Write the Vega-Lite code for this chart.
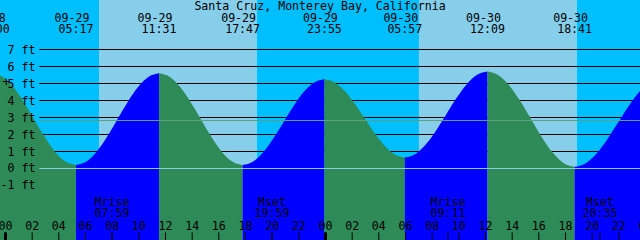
{
  "$schema": "https://vega.github.io/schema/vega-lite/v6.json",
  "width": 640,
  "height": 240,
  "padding": 0,
  "autosize": {"type": "none"},
  "config": {"view": {"stroke": null}, "text": {"font": "DejaVu Sans Mono", "fontSize": 11.6, "color": "black"}},
  "datasets": {
    "sky": [
      {"t0": -0.4125, "t1": 7.0125, "k": "night"},
      {"t0": 7.0125, "t1": 18.84, "k": "day"},
      {"t0": 18.84, "t1": 31.01, "k": "night"},
      {"t0": 31.01, "t1": 42.84, "k": "day"},
      {"t0": 42.84, "t1": 47.5875, "k": "night"}
    ],
    "tide": [
      {"t": -1.0, "h": 5.6, "seg": 0, "dir": "falling"},
      {"t": -0.215, "h": 5.394, "seg": 0, "dir": "falling"},
      {"t": 0.571, "h": 4.809, "seg": 0, "dir": "falling"},
      {"t": 1.356, "h": 3.933, "seg": 0, "dir": "falling"},
      {"t": 2.142, "h": 2.9, "seg": 0, "dir": "falling"},
      {"t": 2.927, "h": 1.867, "seg": 0, "dir": "falling"},
      {"t": 3.712, "h": 0.991, "seg": 0, "dir": "falling"},
      {"t": 4.498, "h": 0.405, "seg": 0, "dir": "falling"},
      {"t": 5.283, "h": 0.2, "seg": 0, "dir": "falling"},
      {"t": 5.283, "h": 0.2, "seg": 1, "dir": "rising"},
      {"t": 6.062, "h": 0.406, "seg": 1, "dir": "rising"},
      {"t": 6.841, "h": 0.991, "seg": 1, "dir": "rising"},
      {"t": 7.621, "h": 1.867, "seg": 1, "dir": "rising"},
      {"t": 8.4, "h": 2.9, "seg": 1, "dir": "rising"},
      {"t": 9.179, "h": 3.933, "seg": 1, "dir": "rising"},
      {"t": 9.958, "h": 4.809, "seg": 1, "dir": "rising"},
      {"t": 10.738, "h": 5.394, "seg": 1, "dir": "rising"},
      {"t": 11.517, "h": 5.6, "seg": 1, "dir": "rising"},
      {"t": 11.517, "h": 5.6, "seg": 2, "dir": "falling"},
      {"t": 12.3, "h": 5.394, "seg": 2, "dir": "falling"},
      {"t": 13.083, "h": 4.809, "seg": 2, "dir": "falling"},
      {"t": 13.867, "h": 3.933, "seg": 2, "dir": "falling"},
      {"t": 14.65, "h": 2.9, "seg": 2, "dir": "falling"},
      {"t": 15.433, "h": 1.867, "seg": 2, "dir": "falling"},
      {"t": 16.217, "h": 0.991, "seg": 2, "dir": "falling"},
      {"t": 17.0, "h": 0.406, "seg": 2, "dir": "falling"},
      {"t": 17.783, "h": 0.2, "seg": 2, "dir": "falling"},
      {"t": 17.783, "h": 0.2, "seg": 3, "dir": "rising"},
      {"t": 18.55, "h": 0.392, "seg": 3, "dir": "rising"},
      {"t": 19.317, "h": 0.94, "seg": 3, "dir": "rising"},
      {"t": 20.083, "h": 1.759, "seg": 3, "dir": "rising"},
      {"t": 20.85, "h": 2.725, "seg": 3, "dir": "rising"},
      {"t": 21.617, "h": 3.691, "seg": 3, "dir": "rising"},
      {"t": 22.383, "h": 4.51, "seg": 3, "dir": "rising"},
      {"t": 23.15, "h": 5.058, "seg": 3, "dir": "rising"},
      {"t": 23.917, "h": 5.25, "seg": 3, "dir": "rising"},
      {"t": 23.917, "h": 5.25, "seg": 4, "dir": "falling"},
      {"t": 24.671, "h": 5.075, "seg": 4, "dir": "falling"},
      {"t": 25.425, "h": 4.576, "seg": 4, "dir": "falling"},
      {"t": 26.179, "h": 3.83, "seg": 4, "dir": "falling"},
      {"t": 26.933, "h": 2.95, "seg": 4, "dir": "falling"},
      {"t": 27.688, "h": 2.07, "seg": 4, "dir": "falling"},
      {"t": 28.442, "h": 1.324, "seg": 4, "dir": "falling"},
      {"t": 29.196, "h": 0.825, "seg": 4, "dir": "falling"},
      {"t": 29.95, "h": 0.65, "seg": 4, "dir": "falling"},
      {"t": 29.95, "h": 0.65, "seg": 5, "dir": "rising"},
      {"t": 30.725, "h": 0.842, "seg": 5, "dir": "rising"},
      {"t": 31.5, "h": 1.39, "seg": 5, "dir": "rising"},
      {"t": 32.275, "h": 2.209, "seg": 5, "dir": "rising"},
      {"t": 33.05, "h": 3.175, "seg": 5, "dir": "rising"},
      {"t": 33.825, "h": 4.141, "seg": 5, "dir": "rising"},
      {"t": 34.6, "h": 4.96, "seg": 5, "dir": "rising"},
      {"t": 35.375, "h": 5.508, "seg": 5, "dir": "rising"},
      {"t": 36.15, "h": 5.7, "seg": 5, "dir": "rising"},
      {"t": 36.15, "h": 5.7, "seg": 6, "dir": "falling"},
      {"t": 36.967, "h": 5.487, "seg": 6, "dir": "falling"},
      {"t": 37.783, "h": 4.88, "seg": 6, "dir": "falling"},
      {"t": 38.6, "h": 3.972, "seg": 6, "dir": "falling"},
      {"t": 39.417, "h": 2.9, "seg": 6, "dir": "falling"},
      {"t": 40.233, "h": 1.829, "seg": 6, "dir": "falling"},
      {"t": 41.05, "h": 0.92, "seg": 6, "dir": "falling"},
      {"t": 41.866, "h": 0.313, "seg": 6, "dir": "falling"},
      {"t": 42.683, "h": 0.1, "seg": 6, "dir": "falling"},
      {"t": 42.683, "h": 0.1, "seg": 7, "dir": "rising"},
      {"t": 43.498, "h": 0.298, "seg": 7, "dir": "rising"},
      {"t": 44.312, "h": 0.862, "seg": 7, "dir": "rising"},
      {"t": 45.127, "h": 1.705, "seg": 7, "dir": "rising"},
      {"t": 45.942, "h": 2.7, "seg": 7, "dir": "rising"},
      {"t": 46.756, "h": 3.695, "seg": 7, "dir": "rising"},
      {"t": 47.571, "h": 4.539, "seg": 7, "dir": "rising"},
      {"t": 48.385, "h": 5.102, "seg": 7, "dir": "rising"},
      {"t": 49.2, "h": 5.3, "seg": 7, "dir": "rising"}
    ],
    "grid": [{"lvl": 1}, {"lvl": 2}, {"lvl": 3}, {"lvl": 4}, {"lvl": 5}, {"lvl": 6}, {"lvl": 7}],
    "ylab": [
      {"lvl": 7, "lab": "7 ft"}, {"lvl": 6, "lab": "6 ft"}, {"lvl": 5, "lab": "5 ft"}, {"lvl": 4, "lab": "4 ft"},
      {"lvl": 3, "lab": "3 ft"}, {"lvl": 2, "lab": "2 ft"}, {"lvl": 1, "lab": "1 ft"}, {"lvl": 0, "lab": "0 ft"},
      {"lvl": -1, "lab": "-1 ft"}
    ],
    "events": [
      {"t": -1.0, "d": "09-28", "tm": "23:00"},
      {"t": 5.283, "d": "09-29", "tm": "05:17"},
      {"t": 11.517, "d": "09-29", "tm": "11:31"},
      {"t": 17.783, "d": "09-29", "tm": "17:47"},
      {"t": 23.917, "d": "09-29", "tm": "23:55"},
      {"t": 29.95, "d": "09-30", "tm": "05:57"},
      {"t": 36.15, "d": "09-30", "tm": "12:09"},
      {"t": 42.683, "d": "09-30", "tm": "18:41"}
    ],
    "moon": [
      {"t": 7.983, "e": "Mrise", "tm": "07:59"},
      {"t": 19.983, "e": "Mset", "tm": "19:59"},
      {"t": 33.183, "e": "Mrise", "tm": "09:11"},
      {"t": 44.583, "e": "Mset", "tm": "20:35"}
    ],
    "hours": [
      {"t": 0, "lab": "00"}, {"t": 2, "lab": "02"}, {"t": 4, "lab": "04"}, {"t": 6, "lab": "06"},
      {"t": 8, "lab": "08"}, {"t": 10, "lab": "10"}, {"t": 12, "lab": "12"}, {"t": 14, "lab": "14"},
      {"t": 16, "lab": "16"}, {"t": 18, "lab": "18"}, {"t": 20, "lab": "20"}, {"t": 22, "lab": "22"},
      {"t": 24, "lab": "00"}, {"t": 26, "lab": "02"}, {"t": 28, "lab": "04"}, {"t": 30, "lab": "06"},
      {"t": 32, "lab": "08"}, {"t": 34, "lab": "10"}, {"t": 36, "lab": "12"}, {"t": 38, "lab": "14"},
      {"t": 40, "lab": "16"}, {"t": 42, "lab": "18"}, {"t": 44, "lab": "20"}, {"t": 46, "lab": "22"},
      {"t": 48, "lab": "00"}
    ]
  },
  "layer": [
    {
      "data": {"name": "sky"},
      "mark": {"type": "rect"},
      "encoding": {
        "x": {"field": "t0", "type": "quantitative", "scale": {"domain": [-0.4125, 47.5875], "nice": false, "zero": false}, "axis": null},
        "x2": {"field": "t1"},
        "color": {"field": "k", "type": "nominal", "scale": {"domain": ["night", "day", "rising", "falling"], "range": ["#00BFFF", "#87CEEB", "#0000FF", "#2E8B57"]}, "legend": null}
      }
    },
    {
      "data": {"name": "grid"},
      "mark": {"type": "rule", "color": "black", "strokeWidth": 1},
      "encoding": {
        "y": {"field": "lvl", "type": "quantitative", "scale": {"domain": [-4.2059, 9.9118], "nice": false, "zero": false}, "axis": null},
        "x": {"datum": 2.535, "type": "quantitative", "scale": {"domain": [-0.4125, 47.5875], "nice": false, "zero": false}, "axis": null},
        "x2": {"datum": 47.5875}
      }
    },
    {
      "data": {"name": "tide"},
      "mark": {"type": "area", "interpolate": "monotone", "clip": true},
      "encoding": {
        "x": {"field": "t", "type": "quantitative", "scale": {"domain": [-0.4125, 47.5875], "nice": false, "zero": false}, "axis": null},
        "y": {"field": "h", "type": "quantitative", "stack": null, "scale": {"domain": [-4.2059, 9.9118], "nice": false, "zero": false}, "axis": null},
        "y2": {"datum": -4.2059},
        "color": {"field": "dir", "type": "nominal", "scale": {"domain": ["night", "day", "rising", "falling"], "range": ["#00BFFF", "#87CEEB", "#0000FF", "#2E8B57"]}, "legend": null},
        "detail": {"field": "seg", "type": "nominal"}
      }
    },
    {
      "data": {"values": [{"lvl": 0}]},
      "mark": {"type": "rule", "color": "#87CEEB", "strokeWidth": 1},
      "encoding": {
        "y": {"field": "lvl", "type": "quantitative"},
        "x": {"datum": 2.535, "type": "quantitative"},
        "x2": {"datum": 47.5875}
      }
    },
    {
      "data": {"values": [{"lvl": 2.824}]},
      "mark": {"type": "rule", "color": "#5f9f7f", "strokeWidth": 1},
      "encoding": {
        "y": {"field": "lvl", "type": "quantitative"},
        "x": {"datum": 2.535, "type": "quantitative"},
        "x2": {"datum": 47.5875}
      }
    },
    {
      "data": {"name": "ylab"},
      "mark": {"type": "text", "align": "right", "baseline": "alphabetic", "dy": 4},
      "encoding": {
        "x": {"datum": 2.25, "type": "quantitative"},
        "y": {"field": "lvl", "type": "quantitative"},
        "text": {"field": "lab"}
      }
    },
    {
      "data": {"name": "events"},
      "mark": {"type": "text", "align": "center", "baseline": "alphabetic", "dx": -4},
      "encoding": {
        "x": {"field": "t", "type": "quantitative"},
        "y": {"datum": 8.618, "type": "quantitative"},
        "text": {"field": "d"}
      }
    },
    {
      "data": {"name": "events"},
      "mark": {"type": "text", "align": "center", "baseline": "alphabetic"},
      "encoding": {
        "x": {"field": "t", "type": "quantitative"},
        "y": {"datum": 7.953, "type": "quantitative"},
        "text": {"field": "tm"}
      }
    },
    {
      "data": {"values": [{"lab": "Santa Cruz, Monterey Bay, California"}]},
      "mark": {"type": "text", "align": "center", "baseline": "alphabetic"},
      "encoding": {
        "x": {"datum": 23.59, "type": "quantitative"},
        "y": {"datum": 9.324, "type": "quantitative"},
        "text": {"field": "lab"}
      }
    },
    {
      "data": {"name": "moon"},
      "mark": {"type": "text", "align": "center", "baseline": "alphabetic"},
      "encoding": {
        "x": {"field": "t", "type": "quantitative"},
        "y": {"datum": -2.19, "type": "quantitative"},
        "text": {"field": "e"}
      }
    },
    {
      "data": {"name": "moon"},
      "mark": {"type": "text", "align": "center", "baseline": "alphabetic"},
      "encoding": {
        "x": {"field": "t", "type": "quantitative"},
        "y": {"datum": -2.87, "type": "quantitative"},
        "text": {"field": "tm"}
      }
    },
    {
      "data": {"name": "hours"},
      "mark": {"type": "text", "align": "center", "baseline": "alphabetic"},
      "encoding": {
        "x": {"field": "t", "type": "quantitative"},
        "y": {"datum": -3.618, "type": "quantitative"},
        "text": {"field": "lab"}
      }
    },
    {
      "data": {"name": "hours"},
      "mark": {"type": "rule", "color": "black", "strokeWidth": 1},
      "encoding": {
        "x": {"field": "t", "type": "quantitative"},
        "y": {"datum": -3.76, "type": "quantitative"},
        "y2": {"datum": -4.2059}
      }
    },
    {
      "data": {"name": "moon"},
      "mark": {"type": "rule", "color": "black", "strokeWidth": 1},
      "encoding": {
        "x": {"field": "t", "type": "quantitative"},
        "y": {"datum": -3.76, "type": "quantitative"},
        "y2": {"datum": -4.2059}
      }
    },
    {
      "data": {"name": "hours"},
      "transform": [{"filter": "datum.t % 24 == 0"}],
      "mark": {"type": "rule", "color": "black", "strokeWidth": 3},
      "encoding": {
        "x": {"field": "t", "type": "quantitative"},
        "y": {"datum": -3.76, "type": "quantitative"},
        "y2": {"datum": -4.2059}
      }
    },
    {
      "data": {"values": [{"lab": "+"}]},
      "mark": {"type": "text", "align": "center", "baseline": "alphabetic", "fontSize": 13},
      "encoding": {
        "x": {"datum": 0.04, "type": "quantitative"},
        "y": {"datum": 4.86, "type": "quantitative"},
        "text": {"field": "lab"}
      }
    }
  ]
}
